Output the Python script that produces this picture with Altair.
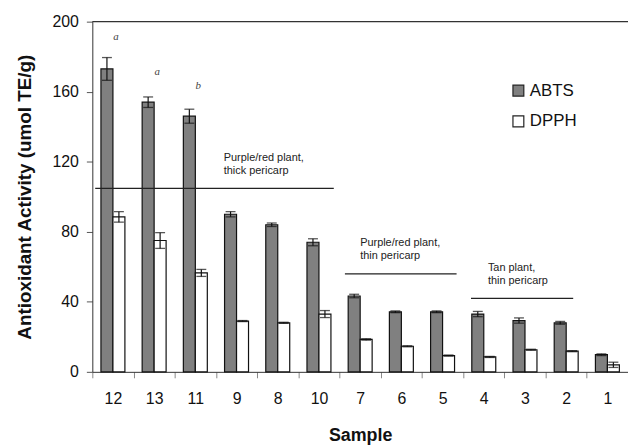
import altair as alt
import pandas as pd

samples = ["12", "13", "11", "9", "8", "10", "7", "6", "5", "4", "3", "2", "1"]
abts = [173, 154, 146, 90, 84, 74, 43.3, 34.3, 34.3, 33, 29.3, 28, 9.8]
abts_err = [6.5, 3, 4, 1.5, 1, 2, 1, 0.5, 0.5, 1.5, 1.5, 0.8, 0.5]
dpph = [88.5, 75, 56.5, 29, 28, 33, 18.5, 14.6, 9.3, 8.5, 12.6, 11.8, 4]
dpph_err = [3, 4.5, 2, 0.3, 0.3, 2, 0.4, 0.3, 0.3, 0.3, 0.3, 0.3, 1.5]
assays = ["ABTS", "DPPH"]

letters = ["a", "a", "b"]
letter_samples = ["12", "13", "11"]
letter_y = [191, 171, 163]

FONT = "Liberation Sans"

rows = []
for s, a, ae, d, de in zip(samples, abts, abts_err, dpph, dpph_err):
    rows.append({"Sample": s, "Assay": "ABTS", "Value": a, "lo": a - ae, "hi": a + ae})
    rows.append({"Sample": s, "Assay": "DPPH", "Value": d, "lo": d - de, "hi": d + de})
df = pd.DataFrame(rows)

xscale = alt.Scale(domain=samples, paddingInner=0, paddingOuter=0)
offscale = alt.Scale(domain=assays, paddingOuter=0.72, paddingInner=0)
yscale = alt.Scale(domain=[0, 200], nice=False)

x_main = alt.X(
    "Sample:N", scale=xscale, title="Sample",
    axis=alt.Axis(tickBand="extent", labelAngle=0, labelFontSize=16, labelColor="#111",
                  labelPadding=13, tickSize=6, tickColor="#888", domainColor="#333",
                  titleFontSize=18, titleFontWeight="bold", titlePadding=20, titleColor="#111",
                  labelFont=FONT, titleFont=FONT),
)
y_main = alt.Y(
    "Value:Q", scale=yscale, title="Antioxidant Activity (umol TE/g)",
    axis=alt.Axis(values=[0, 40, 80, 120, 160, 200], grid=False, labelFontSize=16,
                  labelColor="#111", tickSize=6, tickColor="#555", domainColor="#333",
                  labelPadding=8, titleFontSize=19, titleFontWeight="bold",
                  titlePadding=18, titleColor="#111", labelFont=FONT, titleFont=FONT),
)

bars = alt.Chart(df).mark_bar(stroke="#111", strokeWidth=1.2).encode(
    x=x_main,
    xOffset=alt.XOffset("Assay:N", scale=offscale),
    y=y_main,
    fill=alt.Fill("Assay:N", scale=alt.Scale(domain=assays, range=["#808080", "#ffffff"]),
                  legend=alt.Legend(title=None, orient="none", legendX=421, legendY=61,
                                    symbolType="square", symbolSize=120,
                                    symbolStrokeColor="#222", symbolStrokeWidth=1.2,
                                    labelFontSize=17, labelFont=FONT, labelColor="#111",
                                    rowPadding=13, labelOffset=3)),
)

err = alt.Chart(df).mark_rule(color="#111", strokeWidth=1.2).encode(
    x=alt.X("Sample:N", scale=xscale),
    xOffset=alt.XOffset("Assay:N", scale=offscale),
    y=alt.Y("lo:Q", scale=yscale),
    y2="hi:Q",
)
cap_lo = alt.Chart(df).mark_tick(color="#111", thickness=1.3, size=10).encode(
    x=alt.X("Sample:N", scale=xscale),
    xOffset=alt.XOffset("Assay:N", scale=offscale),
    y=alt.Y("lo:Q", scale=yscale),
)
cap_hi = alt.Chart(df).mark_tick(color="#111", thickness=1.3, size=10).encode(
    x=alt.X("Sample:N", scale=xscale),
    xOffset=alt.XOffset("Assay:N", scale=offscale),
    y=alt.Y("hi:Q", scale=yscale),
)

top_line = alt.Chart(pd.DataFrame({"v": [200]})).mark_rule(color="#333", strokeWidth=1.2).encode(
    y=alt.Y("v:Q", scale=yscale)
)

# group annotation lines: (start sample, band pos, end sample, band pos, y, text sample, band pos, text y, text)
groups = [
    ("12", 0.07, "10", 0.86, 104.8, "9", 0.19, 122, ["Purple/red plant,", "thick pericarp"]),
    ("7", 0.13, "5", 0.84, 56, "7", 0.5, 73.5, ["Purple/red plant,", "thin pericarp"]),
    ("4", 0.19, "2", 0.67, 42, "4", 0.6, 59.5, ["Tan plant,", "thin pericarp"]),
]
layers = [bars, err, cap_lo, cap_hi, top_line]
for s0, b0, s1, b1, yv, ts, tb, ty, txt in groups:
    gdf = pd.DataFrame({"Sample": [s0], "SampleEnd": [s1], "yv": [yv]})
    line = alt.Chart(gdf).mark_rule(color="#222", strokeWidth=1.2).encode(
        x=alt.X("Sample:N", scale=xscale, bandPosition=b0),
        x2=alt.X2("SampleEnd:N", bandPosition=b1),
        y=alt.Y("yv:Q", scale=yscale),
    )
    tdf = pd.DataFrame({"Sample": [ts], "yv": [ty]})
    label = alt.Chart(tdf).mark_text(
        text=txt, align="left", baseline="middle", fontSize=11, font=FONT,
        color="#222", lineHeight=13,
    ).encode(
        x=alt.X("Sample:N", scale=xscale, bandPosition=tb),
        y=alt.Y("yv:Q", scale=yscale),
    )
    layers += [line, label]

ldf = pd.DataFrame({"Sample": letter_samples, "yv": letter_y, "t": letters})
letter_marks = alt.Chart(ldf).mark_text(
    font="Liberation Serif", fontStyle="italic", fontSize=11, color="#444", dx=3
).encode(
    x=alt.X("Sample:N", scale=xscale),
    y=alt.Y("yv:Q", scale=yscale),
    text="t:N",
)
layers.append(letter_marks)

chart = alt.layer(*layers).properties(
    width=540, height=353,
    autosize=alt.AutoSizeParams(type="none"),
    padding={"left": 85, "top": 12, "right": 0, "bottom": 74},
).configure_view(stroke=None)

chart.save("out.html", embed_options={"renderer": "svg", "actions": False})
